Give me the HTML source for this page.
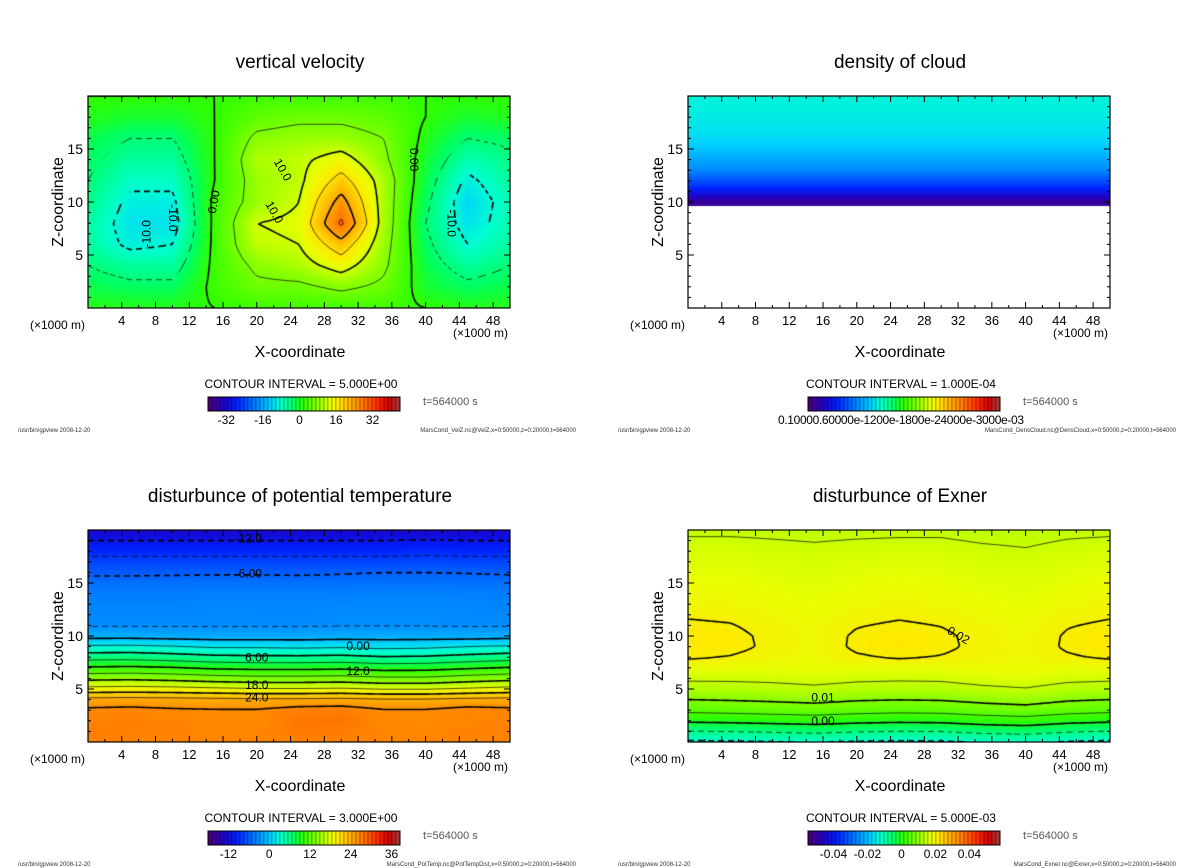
<!DOCTYPE html>
<html><head><meta charset="utf-8">
<style>
body{margin:0;background:#fff;width:1200px;height:868px;position:relative;overflow:hidden;font-family:"Liberation Sans",sans-serif}
canvas{position:absolute}
svg{position:absolute;left:0;top:0}
</style></head>
<body>
<canvas id="c0" width="422" height="212" style="left:88px;top:96px"></canvas>
<canvas id="c1" width="422" height="212" style="left:688px;top:96px"></canvas>
<canvas id="c2" width="422" height="212" style="left:88px;top:530px"></canvas>
<canvas id="c3" width="422" height="212" style="left:688px;top:530px"></canvas>
<svg id="ov" width="1200" height="868"></svg>
<script>
// ---- data ----
const xCols = [0,5,10,15,20,25,30,35,40,45,50];
const velZRows = [20,18,16,14,12,10,8,6,4,2,0];
const velZ = [
[0,0,0,0,1,1,1,1,0,0,0],
[-1,-2,-2,0,3,4,4,3,0,-2,-1],
[-3,-5,-5,0,6,7,7,5,-1,-5,-4],
[-4,-7,-7,0,8,9,12,6,-2,-8,-6],
[-5,-9,-9,0,7,9,17,8,-3,-11,-7],
[-6,-11,-11,1,7,10,22,8,-4,-13,-8],
[-7,-12,-12,1,10,11,26,8,-5,-12,-8],
[-7,-11,-10,1,9,10,18,7,-4,-10,-7],
[-5,-7,-7,1,6,8,12,6,-3,-7,-5],
[-3,-4,-4,1,4,4,6,4,-2,-4,-3],
[-1,-1,-1,0,1,1,1,1,0,-1,-1]];
const zRows1 = [20,19,18,17,16,15,14,13,12,11,10,9,8,7,6,5,4,3,2,1,0];
const cloud = [
[.37,.37,.37,.37,.37,.37,.37,.37,.37,.37,.37],
[.365,.365,.365,.365,.365,.365,.365,.365,.365,.365,.365],
[.36,.36,.36,.36,.36,.36,.36,.36,.36,.36,.36],
[.35,.35,.35,.35,.35,.35,.35,.35,.35,.35,.35],
[.34,.34,.34,.34,.34,.34,.34,.34,.34,.34,.34],
[.32,.32,.32,.32,.32,.32,.32,.32,.32,.32,.32],
[.29,.29,.29,.29,.29,.29,.29,.29,.29,.29,.29],
[.26,.26,.26,.26,.26,.26,.26,.26,.26,.26,.26],
[.20,.20,.20,.20,.20,.20,.20,.20,.20,.20,.20],
[.13,.13,.13,.13,.13,.13,.13,.13,.13,.13,.13],
[.04,.04,.04,.04,.04,.04,.04,.04,.04,.04,.04],
[null,null,null,null,null,null,null,null,null,null,null],
[null,null,null,null,null,null,null,null,null,null,null],
[null,null,null,null,null,null,null,null,null,null,null],
[null,null,null,null,null,null,null,null,null,null,null],
[null,null,null,null,null,null,null,null,null,null,null],
[null,null,null,null,null,null,null,null,null,null,null],
[null,null,null,null,null,null,null,null,null,null,null],
[null,null,null,null,null,null,null,null,null,null,null],
[null,null,null,null,null,null,null,null,null,null,null],
[null,null,null,null,null,null,null,null,null,null,null]];
const potTemp = [
[-14,-14,-14,-14,-14,-14,-14,-14,-14,-14,-14],
[-12,-12,-12,-12,-12,-12,-12,-12,-11.8,-12,-12],
[-10,-10,-10,-10,-10,-10,-10,-10,-9.8,-10,-10],
[-8,-8,-8,-8,-8,-8,-8,-8,-7.8,-8,-8],
[-6.5,-6.5,-6.4,-6.3,-6.3,-6.4,-6.2,-6,-6,-6.1,-6.3],
[-5,-5,-5,-5,-5,-5,-5,-4.9,-4.9,-5,-5],
[-4.2,-4.2,-4.2,-4,-4,-4,-4,-3.9,-3.9,-4,-4.2],
[-3.8,-3.8,-3.8,-3.6,-3.6,-3.7,-3.5,-3.4,-3.4,-3.6,-3.8],
[-3.5,-3.5,-3.5,-3.4,-3.4,-3.4,-3.3,-3.2,-3.2,-3.4,-3.5],
[-3.2,-3.2,-3.2,-3.2,-3.2,-3.2,-3.1,-3.1,-3.1,-3.2,-3.2],
[-1,-1,-1.2,-1.4,-1.4,-1.4,-1.2,-1.2,-1.2,-1.2,-1],
[3.5,3.6,3.2,2.6,2.6,2.4,2.6,2.2,2.4,3,3.4],
[7.8,7.9,7.4,6.8,6.6,6.6,6.8,6.2,6.4,7,7.6],
[12.4,12.6,12.2,11.5,11.2,11.2,11.4,10.8,10.9,11.6,12.2],
[17.2,17.4,17,16.4,16,16,16.2,15.6,15.6,16.4,17],
[22,22.2,22,21.6,21.2,21.2,21.4,20.8,20.8,21.4,22],
[28,28.2,28,27.8,27.6,27.6,27.8,27.4,27.4,27.8,28],
[30.6,30.8,30.4,30.2,30.2,31.2,31.4,30.2,30.2,31,30.6],
[31,31.2,31,30.6,30.4,31.8,32,30.6,30.4,30.8,31],
[31.4,31.2,31,30.8,30.8,31.6,31.4,30.8,30.8,31,31.2],
[31,31,31,30.8,30.8,31,31,30.8,30.8,31,31]];
const exner = [
[.0145,.0145,.0144,.0142,.0144,.0145,.0145,.0141,.0139,.0144,.0145],
[.0153,.0153,.0151,.0149,.0151,.0152,.0152,.0148,.0146,.0151,.0153],
[.0160,.0160,.0157,.0155,.0158,.0160,.0159,.0155,.0152,.0158,.0160],
[.0165,.0165,.0162,.0159,.0163,.0165,.0164,.0160,.0157,.0163,.0165],
[.0170,.0170,.0166,.0162,.0167,.0170,.0168,.0164,.0161,.0167,.0170],
[.0175,.0174,.0170,.0166,.0171,.0175,.0172,.0167,.0164,.0171,.0175],
[.0181,.0179,.0174,.0169,.0176,.0180,.0177,.0171,.0167,.0176,.0181],
[.0188,.0185,.0178,.0173,.0182,.0187,.0183,.0176,.0171,.0182,.0188],
[.0196,.0193,.0183,.0177,.0189,.0195,.0190,.0181,.0175,.0189,.0196],
[.0206,.0202,.0188,.0180,.0198,.0205,.0199,.0186,.0179,.0198,.0206],
[.0214,.0209,.0192,.0182,.0205,.0213,.0206,.0190,.0181,.0204,.0214],
[.0215,.0210,.0193,.0182,.0206,.0214,.0207,.0191,.0182,.0205,.0215],
[.0205,.0198,.0186,.0180,.0196,.0204,.0198,.0188,.0182,.0196,.0205],
[.0178,.0176,.0172,.0173,.0175,.0176,.0176,.0178,.0180,.0175,.0178],
[.0156,.0156,.0158,.0162,.0157,.0155,.0156,.0164,.0168,.0158,.0156],
[.0133,.0135,.0138,.0143,.0136,.0134,.0135,.0143,.0148,.0137,.0133],
[.0100,.0103,.0107,.0112,.0104,.0101,.0103,.0112,.0118,.0105,.0100],
[.0062,.0066,.0071,.0076,.0068,.0064,.0066,.0076,.0082,.0069,.0062],
[.0008,.0011,.0016,.0021,.0013,.0009,.0011,.0022,.0028,.0014,.0008],
[-.0052,-.0049,-.0045,-.0040,-.0047,-.0051,-.0049,-.0039,-.0034,-.0046,-.0052],
[-.0108,-.0106,-.0102,-.0098,-.0104,-.0107,-.0105,-.0097,-.0093,-.0103,-.0108]];
const velTicks = ["-32","-16","0","16","32"], velTickVals=[-32,-16,0,16,32];
const ptTicks = ["-12","0","12","24","36"], ptTickVals=[-12,0,12,24,36];
const exTicks = ["-0.04","-0.02","0","0.02","0.04"], exTickVals=[-0.04,-0.02,0,0.02,0.04];
const xTickLabels=[4,8,12,16,20,24,28,32,36,40,44,48];
const zTickLabels=[5,10,15];

// ---- colormap ----
const stops=[[0,[80,0,112]],[.08,[32,0,192]],[.15,[0,32,255]],[.25,[0,128,255]],[.33,[0,208,255]],[.38,[0,255,208]],[.45,[0,255,96]],[.5,[48,255,0]],[.58,[144,255,0]],[.64,[232,255,0]],[.68,[255,232,0]],[.74,[255,176,0]],[.8,[255,128,0]],[.88,[255,48,0]],[.94,[208,0,0]],[1,[160,64,64]]];
function cmap(t){t=Math.max(0,Math.min(1,t));for(let i=1;i<stops.length;i++){if(t<=stops[i][0]){const a=stops[i-1],b=stops[i],f=(t-a[0])/(b[0]-a[0]);return a[1].map((v,k)=>Math.round(v+(b[1][k]-v)*f));}}return stops[stops.length-1][1];}

const panels=[
 {c:'c0',x0:88,y0:96,rows:velZRows,grid:velZ,vmin:-40,vmax:40,interval:5,thick:10,name:'vertical-velocity'},
 {c:'c1',x0:688,y0:96,rows:zRows1,grid:cloud,vmin:0,vmax:1,interval:0,thick:0,name:'density-of-cloud'},
 {c:'c2',x0:88,y0:530,rows:zRows1,grid:potTemp,vmin:-20,vmax:44,interval:3,thick:6,name:'potential-temperature'},
 {c:'c3',x0:688,y0:530,rows:zRows1,grid:exner,vmin:-0.05,vmax:0.055,interval:0.005,thick:0.01,name:'exner'}];
const W=422,H=212;
function field(p,x,z){
 const xs=xCols,zs=p.rows;
 let i=Math.min(xs.length-2,Math.max(0,Math.floor(x/(xs[1]-xs[0]))));
 let fx=(x-xs[i])/(xs[i+1]-xs[i]);
 let j=0;while(j<zs.length-2&&z<zs[j+1])j++;
 let fz=(zs[j]-z)/(zs[j]-zs[j+1]);
 const a=p.grid[j][i],b=p.grid[j][i+1],c=p.grid[j+1][i],d=p.grid[j+1][i+1];
 if(a==null||b==null||c==null||d==null){
   if(a!=null&&b!=null&&fz<0.35) return a+(b-a)*fx;
   return null;}
 return (a*(1-fx)+b*fx)*(1-fz)+(c*(1-fx)+d*fx)*fz;}
const xs_=x=>x/50*W, zs_=z=>H-z/20*H;
panels.forEach(p=>{
 const cv=document.getElementById(p.c),ctx=cv.getContext('2d');
 const img=ctx.createImageData(W,H);
 for(let py=0;py<H;py++)for(let px=0;px<W;px++){
  const v=field(p,(px+.5)/W*50,20-(py+.5)/H*20);const k=(py*W+px)*4;
  if(v==null){img.data[k]=img.data[k+1]=img.data[k+2]=255;}
  else{const c=cmap((v-p.vmin)/(p.vmax-p.vmin));img.data[k]=c[0];img.data[k+1]=c[1];img.data[k+2]=c[2];}
  img.data[k+3]=255;}
 ctx.putImageData(img,0,0);
 if(!p.interval)return;
 const s=2,nx=Math.floor(W/s)+1,ny=Math.floor(H/s)+1,G=[];
 for(let j=0;j<ny;j++){G.push([]);for(let i=0;i<nx;i++)G[j].push(field(p,Math.min(W,i*s)/W*50,20-Math.min(H,j*s)/H*20));}
 let lo=Math.ceil(p.vmin/p.interval),hi=Math.floor(p.vmax/p.interval);
 for(let L=lo;L<=hi;L++){
  const lev=L*p.interval;
  const thick=Math.abs(Math.round(lev/p.thick)*p.thick-lev)<1e-9;
  const dashed=lev<-1e-12;
  ctx.beginPath();
  for(let j=0;j<ny-1;j++)for(let i=0;i<nx-1;i++){
   const X=i*s,Y=j*s;
   if(dashed&&Math.floor((X+Y)/5)%2==1)continue;
   const a=G[j][i],b=G[j][i+1],c=G[j+1][i+1],d=G[j+1][i];
   if(a==null||b==null||c==null||d==null)continue;
   const pts=[];
   const e=(v1,v2,x1,y1,x2,y2)=>{if((v1<lev)!==(v2<lev)){const f=(lev-v1)/(v2-v1);pts.push([x1+(x2-x1)*f,y1+(y2-y1)*f]);}};
   e(a,b,X,Y,X+s,Y);e(b,c,X+s,Y,X+s,Y+s);e(c,d,X+s,Y+s,X,Y+s);e(d,a,X,Y+s,X,Y);
   for(let k=0;k+1<pts.length;k+=2){ctx.moveTo(pts[k][0],pts[k][1]);ctx.lineTo(pts[k+1][0],pts[k+1][1]);}
  }
  ctx.strokeStyle='#000';ctx.lineWidth=thick?1.6:0.7;
  ctx.stroke();
 }
});
// ---- overlay ----
const NS='http://www.w3.org/2000/svg',ov=document.getElementById('ov');
function el(tag,attrs,txt){const e=document.createElementNS(NS,tag);for(const k in attrs)e.setAttribute(k,attrs[k]);if(txt!=null)e.textContent=txt;ov.appendChild(e);return e;}
const titles=['vertical velocity','density of cloud','disturbunce of potential temperature','disturbunce of Exner'];
const cis=['CONTOUR INTERVAL = 5.000E+00','CONTOUR INTERVAL = 1.000E-04','CONTOUR INTERVAL = 3.000E+00','CONTOUR INTERVAL = 5.000E-03'];
const files=['MarsCond_VelZ.nc@VelZ,x=0:50000,z=0:20000,t=564000','MarsCond_DensCloud.nc@DensCloud,x=0:50000,z=0:20000,t=564000','MarsCond_PotTemp.nc@PotTempDist,x=0:50000,z=0:20000,t=564000','MarsCond_Exner.nc@Exner,x=0:50000,z=0:20000,t=564000'];
const cbRange=[[-40,44],[0,1],[-18,38.5],[-0.055,0.058]];
const cbT=[[velTicks,velTickVals],null,[ptTicks,ptTickVals],[exTicks,exTickVals]];
panels.forEach((p,n)=>{
 const ox=p.x0-88,oy=p.y0-96;
 let e;
 e=el('rect',{x:p.x0,y:p.y0,width:W,height:H,fill:'none',stroke:'#000','stroke-width':1.2});
 
 for(let x=1;x<50;x++){const len=x%4==0?6:(x%2==0?3:0);if(!len)continue;const X=p.x0+xs_(x);
  el('line',{x1:X,x2:X,y1:p.y0+H,y2:p.y0+H-len,stroke:'#000','stroke-width':1});
  el('line',{x1:X,x2:X,y1:p.y0,y2:p.y0+len,stroke:'#000','stroke-width':1});}
 for(let z=1;z<20;z++){const len=z%5==0?6:3;const Y=p.y0+zs_(z);
  el('line',{x1:p.x0,x2:p.x0+len,y1:Y,y2:Y,stroke:'#000','stroke-width':1});
  el('line',{x1:p.x0+W,x2:p.x0+W-len,y1:Y,y2:Y,stroke:'#000','stroke-width':1});}
 xTickLabels.forEach(v=>{e=el('text',{x:p.x0+xs_(v),y:p.y0+H+17,'font-size':13,'text-anchor':'middle'},String(v));
  });
 zTickLabels.forEach(v=>{e=el('text',{x:p.x0-5,y:p.y0+zs_(v)+5,'font-size':14,'text-anchor':'end'},String(v));
  });
 e=el('text',{x:30+ox,y:329+oy,'font-size':12},'(×1000 m)');
 e=el('text',{x:453+ox,y:337+oy,'font-size':12},'(×1000 m)');
 e=el('text',{x:300+ox,y:357+oy,'font-size':16,'text-anchor':'middle'},'X-coordinate');
 e=el('text',{x:0,y:0,'font-size':16,'text-anchor':'middle',transform:`translate(${63+ox},${202+oy}) rotate(-90)`},'Z-coordinate');
 e=el('text',{x:300+ox,y:68+oy,'font-size':19,'text-anchor':'middle'},titles[n]);
 e=el('text',{x:301+ox,y:388+oy,'font-size':12,'text-anchor':'middle'},cis[n]);
 e=el('text',{x:423+ox,y:405+oy,'font-size':11,fill:'#555'},'t=564000 s');
 e=el('text',{x:18+ox,y:432+oy,'font-size':6,fill:'#333'},'/usr/bin/gpview  2008-12-20');
 e=el('text',{x:576+ox,y:432+oy,'font-size':6,fill:'#333','text-anchor':'end'},files[n]);
 const cbx=208+ox,cby=397+oy,cbw=192,cbh=14,nS=48;
 for(let k=0;k<nS;k++){const c=cmap((k+.5)/nS);
  e=el('rect',{x:cbx+k*cbw/nS,y:cby,width:cbw/nS,height:cbh,fill:`rgb(${c[0]},${c[1]},${c[2]})`,stroke:'rgba(0,0,0,0.45)','stroke-width':0.6});
  }
 el('rect',{x:cbx,y:cby,width:cbw,height:cbh,fill:'none',stroke:'#000','stroke-width':1});
 const r=cbRange[n];
 if(cbT[n]){cbT[n][0].forEach((lab,k)=>{const v=cbT[n][1][k];
   e=el('text',{x:cbx+(v-r[0])/(r[1]-r[0])*cbw,y:cby+27,'font-size':12,'text-anchor':'middle'},lab);
   });}
 else{e=el('text',{x:cbx-30,y:cby+27,'font-size':12,textLength:246},'0.10000.60000e-1200e-1800e-24000e-3000e-03');
   }
});
const labs=[[0,'10.0',23,13,60],[0,'10.0',22,9,60],[0,'0.00',15,10,-80],[0,'0.00',38.5,14,90],[0,'-10.0',7,7,-90],[0,'-10.0',10,8.5,90],[0,'-10.0',43,8,90],
 [2,'-12.0',19,19.1,0],[2,'-6.00',19,15.8,0],[2,'0.00',32,9,0],[2,'6.00',20,7.9,0],[2,'12.0',32,6.6,0],[2,'18.0',20,5.3,0],[2,'24.0',20,4.1,0],
 [3,'0.02',32,10,30],[3,'0.01',16,4.1,0],[3,'0.00',16,1.9,0]];
labs.forEach(l=>{const p=panels[l[0]];const X=p.x0+xs_(l[2]),Y=p.y0+zs_(l[3]);
 const bg=el('text',{x:0,y:0,'font-size':12,'text-anchor':'middle','dominant-baseline':'middle',transform:`translate(${X},${Y}) rotate(${l[4]})`},l[1]);
 
 });
</script>
</body></html>
